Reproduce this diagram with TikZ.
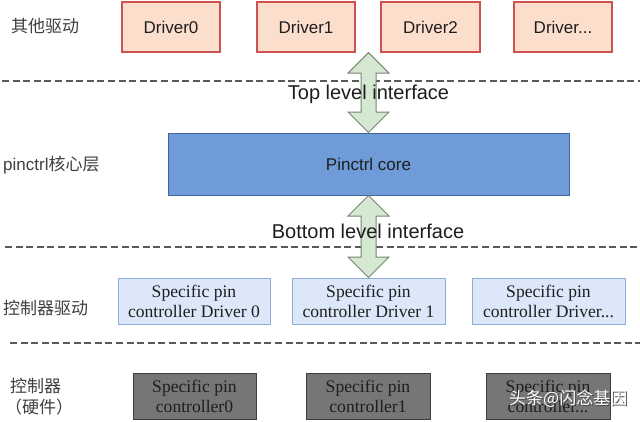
\documentclass[tikz,border=0pt]{standalone}
\usepackage{fontspec}
\setmainfont{Liberation Sans}
\newfontfamily\serifx{Liberation Serif}
\newfontfamily\cjk{Noto Sans CJK SC}
\usetikzlibrary{calc}
\definecolor{drvfill}{HTML}{FBDECC}
\definecolor{drvline}{HTML}{CF5252}
\definecolor{corefill}{HTML}{6F9CD9}
\definecolor{coreline}{HTML}{41659E}
\definecolor{arrfill}{HTML}{D5E8D1}
\definecolor{arrline}{HTML}{75876F}
\definecolor{midfill}{HTML}{DCE8FA}
\definecolor{midline}{HTML}{8EADDD}
\definecolor{hwfill}{HTML}{767676}
\definecolor{hwline}{HTML}{3E3E3E}
\definecolor{txt}{HTML}{1E1E1E}
\definecolor{sep}{HTML}{5A5A5A}
\tikzset{
  drvbox/.style={draw=drvline, line width=1.3bp, fill=drvfill, text=txt, inner sep=0pt,
    minimum width=98bp, minimum height=50bp, font=\fontsize{17bp}{20bp}\selectfont},
  corebox/.style={draw=coreline, line width=1bp, fill=corefill, text=txt, inner sep=0pt,
    minimum width=401bp, minimum height=62bp, font=\fontsize{17bp}{20bp}\selectfont},
  midbox/.style={draw=midline, line width=1bp, fill=midfill, text=txt, inner sep=0pt, align=center,
    minimum width=153bp, minimum height=46bp, font=\serifx\fontsize{17.6bp}{20bp}\selectfont},
  hwbox/.style={draw=hwline, line width=1bp, fill=hwfill, text=txt, inner sep=0pt, align=center,
    minimum width=124bp, minimum height=46bp, font=\serifx\fontsize{17.6bp}{20bp}\selectfont},
  layerlbl/.style={anchor=west, inner sep=0pt, text=txt!85, font=\fontsize{17bp}{20bp}\selectfont},
  ifacelbl/.style={inner sep=0pt, text=txt, font=\fontsize{20bp}{24bp}\selectfont},
  sepline/.style={draw=sep, line width=1.3bp, dash pattern=on 7bp off 3.6bp},
  bigarr/.style={draw=arrline, line width=1bp, fill=arrfill},
}
\newcommand\dblarrow[2]{%
  \draw[bigarr] let \p1=#1, \p2=#2 in
    (\x1,\y1) -- (\x1+20.5bp,\y1-20.5bp) -- (\x1+7.5bp,\y1-20.5bp) -- (\x1+7.5bp,\y2+20.5bp)
    -- (\x1+20.5bp,\y2+20.5bp) -- (\x1,\y2) -- (\x1-20.5bp,\y2+20.5bp) -- (\x1-7.5bp,\y2+20.5bp)
    -- (\x1-7.5bp,\y1-20.5bp) -- (\x1-20.5bp,\y1-20.5bp) -- cycle;}
\begin{document}
\begin{tikzpicture}[x=1bp,y=-1bp]
\useasboundingbox[fill=white] (0,0) rectangle (640,421);

% separators
\coordinate (s1a) at (2,81);   \coordinate (s1b) at (640,81);
\coordinate (s2a) at (5,247);  \coordinate (s2b) at (640,247);
\coordinate (s3a) at (10,343); \coordinate (s3b) at (640,343);
\draw[sepline] (s1a) -- (s1b);
\draw[sepline] (s2a) -- (s2b);
\draw[sepline] (s3a) -- (s3b);

% top drivers
\node[drvbox] (d0) at (171,27) {Driver0};
\node[drvbox] (d1) at (306,27) {Driver1};
\node[drvbox, minimum width=99bp] (d2) at (430.5,27) {Driver2};
\node[drvbox] (d3) at (563,27) {Driver...};

% core
\node[corebox] (core) at (368.5,164) {Pinctrl core};

% controller drivers
\node[midbox, minimum width=152bp] (m0) at (194,301) {Specific pin\\controller Driver 0};
\node[midbox] (m1) at (368.5,301) {Specific pin\\controller Driver 1};
\node[midbox] (m2) at (548.5,301) {Specific pin\\controller Driver...};

% hardware controllers
\node[hwbox, minimum width=123bp] (h0) at (194.5,396) {Specific pin\\controller0};
\node[hwbox] (h1) at (368,396) {Specific pin\\controller1};
\node[hwbox] (h2) at (548,396) {Specific pin\\controller...};

% interface arrows
\coordinate (topin) at (core.north |- d1.south);
\dblarrow{(topin)}{(core.north)}
\dblarrow{(core.south)}{(m1.north)}

\node[ifacelbl] (tli) at (368.5,94) {Top level interface};
\node[ifacelbl] (bli) at (368,231) {Bottom level interface};

% layer labels
\node[layerlbl] (l1) at (11,26) {\cjk 其他驱动};
\node[layerlbl] (l2) at (3,165) {pinctrl\cjk 核心层};
\node[layerlbl] (l3) at (3,308) {\cjk 控制器驱动};
\node[layerlbl] (l4) at (10,386) {\cjk 控制器};
\node[layerlbl] (l5) at (5,407) {\cjk （硬件）};

% watermark
\node[anchor=west, inner sep=0pt, text=black!70, font=\cjk\fontsize{17bp}{20bp}\selectfont] (wm0) at (510,400) {头条@闪念基因};
\node[anchor=west, inner sep=0pt, text=white, font=\cjk\fontsize{17bp}{20bp}\selectfont] (wm) at (509,399) {头条@闪念基因};
\end{tikzpicture}
\end{document}
